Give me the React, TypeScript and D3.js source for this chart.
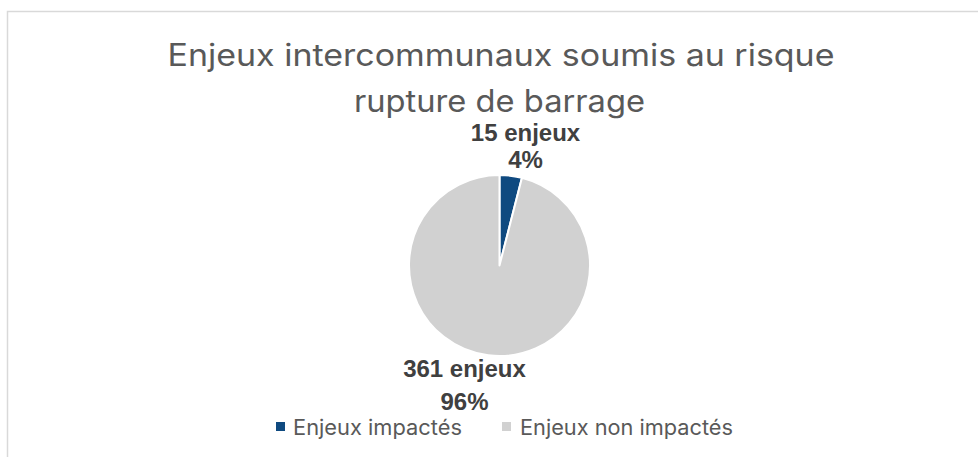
import React from "react";
import * as d3 from "d3";

const categories = ["Enjeux impactés", "Enjeux non impactés"];
const values = [15, 361];
const percentLabels = ["4%", "96%"];
const countLabels = ["15 enjeux", "361 enjeux"];
const colors = ["#0f4a80", "#d1d1d1"];
const titleLines = ["Enjeux intercommunaux soumis au risque", "rupture de barrage"];

const W = 978;
const H = 457;

export default function App() {
  const cx = 499.5;
  const cy = 265.5;
  const r = 90.5;
  const pie = d3.pie<number>().sort(null).value((d) => d).startAngle(0).endAngle(2 * Math.PI);
  const arcs = pie(values);
  const arc = d3.arc<d3.PieArcDatum<number>>().innerRadius(0).outerRadius(r);

  const labelPos = [
    { x: cx + 26, y1: 141, y2: 168 },
    { x: cx - 35, y1: 377, y2: 410 },
  ];

  const legendItems = [
    { sx: 276, tx: 293, w: 169 },
    { sx: 502, tx: 520, w: 213 },
  ];

  return (
    <svg
      width={W}
      height={H}
      style={{ position: "absolute", left: 0, top: 0, background: "#fff" }}
    >
      <rect x={7.5} y={11.5} width={W + 10} height={H + 10} fill="#fff" stroke="#d9d9d9" strokeWidth={1.5} />
      <g fill="#595959" fontFamily="Inter, 'Open Sans', sans-serif" fontSize={30.5} textAnchor="middle">
        <text x={501} y={66} textLength={667} lengthAdjust="spacingAndGlyphs">{titleLines[0]}</text>
        <text x={499.5} y={112} textLength={291} lengthAdjust="spacingAndGlyphs">{titleLines[1]}</text>
      </g>
      <g transform={`translate(${cx},${cy})`}>
        {arcs.map((a, i) => (
          <path key={i} d={arc(a) || ""} fill={colors[i]} stroke="#fff" strokeWidth={2} strokeLinejoin="round" />
        ))}
      </g>
      <g fill="#404040" fontFamily="'Liberation Sans', Arial, sans-serif" fontWeight="bold" fontSize={24} textAnchor="middle">
        {labelPos.map((p, i) => (
          <g key={i}>
            <text x={p.x} y={p.y1}>{countLabels[i]}</text>
            <text x={p.x} y={p.y2}>{percentLabels[i]}</text>
          </g>
        ))}
      </g>
      <g fontFamily="Inter, 'Open Sans', sans-serif" fontSize={21} fill="#595959">
        {categories.map((c, i) => (
          <g key={c}>
            <rect x={legendItems[i].sx} y={422} width={9} height={9} fill={colors[i]} />
            <text x={legendItems[i].tx} y={434.5} textLength={legendItems[i].w} lengthAdjust="spacingAndGlyphs">{c}</text>
          </g>
        ))}
      </g>
    </svg>
  );
}
